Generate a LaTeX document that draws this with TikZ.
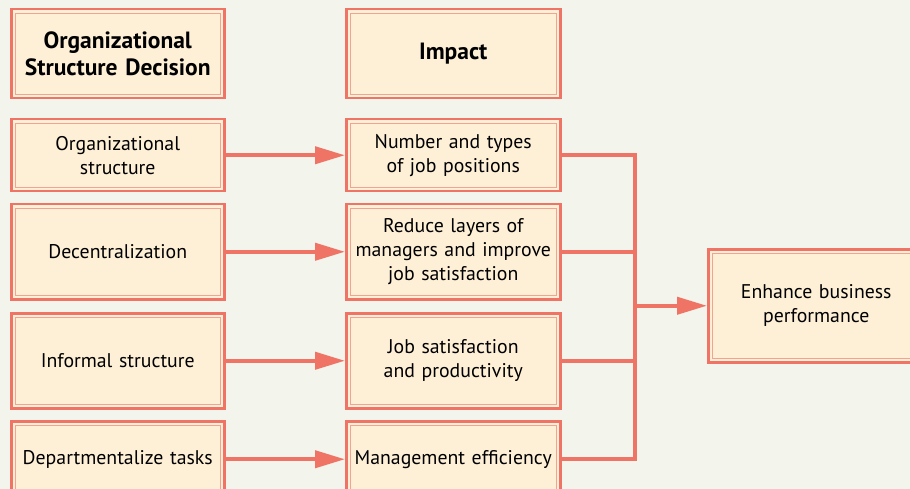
\documentclass[tikz,border=0pt]{standalone}
\usepackage{fontspec}
\setmainfont{PT Sans}
\usetikzlibrary{arrows.meta,calc}
\definecolor{bg}{HTML}{F3F4EC}
\definecolor{boxfill}{HTML}{FEF0D6}
\definecolor{salmon}{HTML}{F07466}
\definecolor{lightsalmon}{HTML}{F4A292}
\tikzset{
  dbox/.style={draw=salmon, line width=2.5pt, fill=boxfill, anchor=north west,
    align=center, inner sep=0pt, font=\fontsize{19.8}{24}\selectfont,
    text width=#1,
    path picture={\draw[lightsalmon, line width=1.3pt]
      ([shift={(4pt,4pt)}]path picture bounding box.south west) rectangle
      ([shift={(-4pt,-4pt)}]path picture bounding box.north east);}},
  dbox/.default=200pt,
  hdr/.style={font=\fontsize{23.5}{27}\selectfont\bfseries},
  conn/.style={draw=salmon, line width=4pt},
  arr/.style={conn, -{Triangle[length=30pt,width=17pt]}, shorten >=0pt}
}
\begin{document}
\begin{tikzpicture}[x=1pt,y=-1pt]
\fill[bg] (0,0) rectangle (910,489);
\useasboundingbox (0,0) rectangle (910,489);
\clip (0,0) rectangle (910,489);
% left column
\node[dbox=213pt, minimum height=89pt, hdr] (lh) at (10,8) {Organizational\\Structure Decision};
\node[dbox=213pt, minimum height=72pt] (l1) at (10,118) {Organizational\\structure};
\node[dbox=213pt, minimum height=95pt] (l2) at (10,203) {Decentralization};
\node[dbox=213pt, minimum height=95pt] (l3) at (10,312) {Informal structure};
\node[dbox=213pt, minimum height=76pt] (l4) at (10,420) {Departmentalize tasks};
% middle column
\node[dbox=214pt, minimum height=89pt, hdr] (mh) at (345,8) {Impact};
\node[dbox=214pt, minimum height=72pt] (m1) at (345,118) {Number and types\\of job positions};
\node[dbox=214pt, minimum height=95pt] (m2) at (345,203) {Reduce layers of\\managers and improve\\job satisfaction};
\node[dbox=214pt, minimum height=95pt] (m3) at (345,312) {Job satisfaction\\and productivity};
\node[dbox=214pt, minimum height=76pt] (m4) at (345,420) {Management efficiency};
% right
\node[dbox=216pt, minimum height=113pt] (r) at (707,248) {Enhance business\\performance};
% arrows left to middle
\draw[arr] (l1.east) -- (m1.west);
\draw[arr] (l2.east) -- (m2.west);
\draw[arr] (l3.east) -- (m3.west);
\draw[arr] (l4.east) -- (m4.west);
% bus
\coordinate (bus) at (635,0);
\draw[conn] (m1.east) -| (bus |- m4.east) -- (m4.east);
\draw[conn] (m2.east) -- (bus |- m2.east);
\draw[conn] (m3.east) -- (bus |- m3.east);
\draw[arr] (bus |- r.west) -- (r.west);
\end{tikzpicture}
\end{document}
